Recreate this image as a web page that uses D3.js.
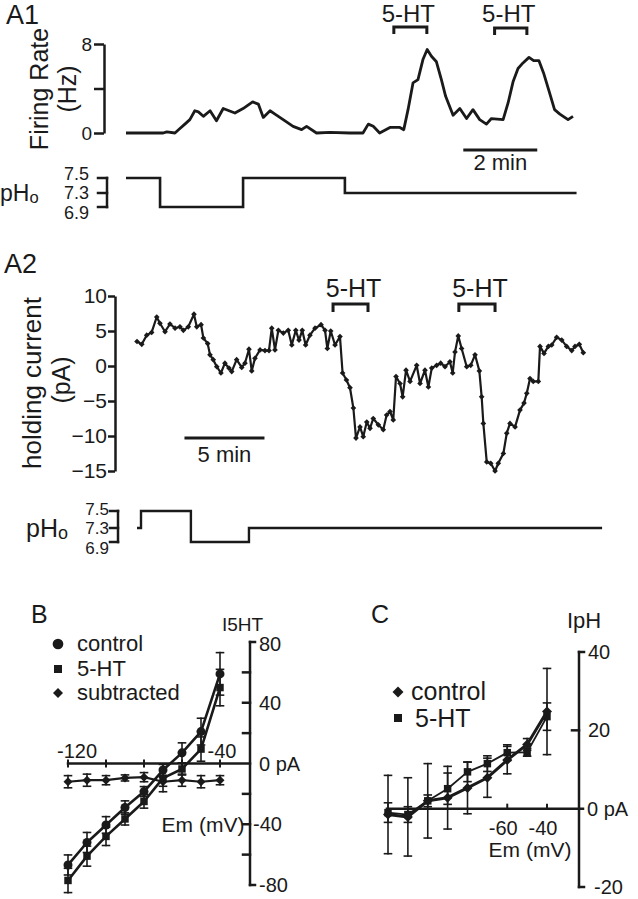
<!DOCTYPE html>
<html><head><meta charset="utf-8">
<script src="https://cdn.jsdelivr.net/npm/d3@7"></script>
<style>
body{margin:0;background:#fff}
svg{display:block}
text{font-family:"Liberation Sans",Arial,Helvetica,sans-serif;fill:#1a1a1a}
</style>
</head><body>
<svg id="c" width="638" height="899"></svg>
<script>
// ---------- DATA ----------
// A1: firing rate (Hz) vs time (min)
const a1Time = [0,1.05,1.15,1.38,1.52,1.66,1.80,1.94,2.04,2.18,2.37,2.55,2.74,3.07,3.30,3.57,3.73,3.87,4.06,4.20,4.43,4.71,4.95,5.09,5.37,5.75,6.31,6.68,6.83,6.97,7.15,7.44,7.72,7.83,7.95,8.09,8.23,8.37,8.49,8.61,8.75,8.89,9.01,9.22,9.41,9.60,9.78,9.97,10.16,10.30,10.63,10.77,10.91,11.05,11.19,11.36,11.49,11.64,11.77,11.94,12.08,12.23,12.46,12.60];
const a1Rate = [0,0,0.1,0,0.4,0.8,1.2,2.0,1.9,1.5,2.0,1.1,2.2,1.8,2.2,2.8,2.6,1.4,2.0,1.7,1.2,0.6,0.3,0.6,0,0.05,0,0,0.8,0.6,0,0.5,0.5,0.3,2.1,4.5,4.8,6.6,7.5,6.9,6.4,4.8,3.3,1.6,2.2,1.3,2.1,1.2,0.8,1.3,1.2,2.7,4.6,5.8,6.3,6.8,6.5,6.5,5.4,3.6,2.1,1.7,1.2,1.5];
const a1Ticks = [0,4,8];
const a1Drug = [[7.55,8.48],[10.39,11.30]];
const a1Bar = [9.55,11.55];          // 2 min scale bar
const a1PhTime = [0,0.96,3.30,6.17,12.7];
const a1PhVal  = [7.5,6.9,7.5,7.3,7.3];
const phTicks = [7.5,7.3,6.9];

// A2: holding current (pA) vs time (min)
const a2Time = [0,0.31,0.63,0.95,1.28,1.49,1.82,2.14,2.47,2.79,3.01,3.33,3.70,3.88,4.16,4.31,4.59,4.74,4.95,5.18,5.45,5.71,5.97,6.15,6.47,6.80,7.01,7.27,7.45,7.66,7.99,8.31,8.57,8.75,8.96,9.18,9.50,9.82,10.05,10.31,10.52,10.73,10.95,11.23,11.56,11.95,12.21,12.36,12.58,12.86,13.18,13.35,13.60,13.83,14.05,14.22,14.48,14.69,14.92,15.13,15.34,15.67,15.99,16.21,16.43,16.64,16.82,17.08,17.25,17.47,17.73,18.16,18.38,18.70,18.92,19.14,19.46,19.72,20.00,20.32,20.50,20.65,20.86,21.08,21.41,21.67,21.95,22.23,22.38,22.49,22.71,22.97,23.25,23.46,23.79,24.01,24.22,24.55,24.87,25.13,25.31,25.52,25.73,26.06,26.17,26.43,26.71,26.93,27.25,27.58,27.90,28.23,28.44,28.72,28.98];
const a2Curr = [3.5,3.1,4.4,4.8,7.0,6.1,4.9,6.0,5.4,5.6,5.1,5.6,7.4,5.6,5.9,4.0,3.2,1.6,0.9,-0.1,-1.0,0.4,-0.3,-0.8,0.9,-0.2,0.4,2.4,-0.7,1.1,2.3,2.2,2.2,5.4,2.3,5.1,4.7,5.1,3.0,5.1,3.7,5.1,3.0,4.4,5.4,5.9,5.1,2.5,5.0,3.0,4.2,-1.0,-2.0,-3.1,-6.0,-10.3,-8.7,-10.1,-8.0,-8.9,-7.5,-8.4,-9.1,-7.0,-6.5,-7.7,-1.5,-2.5,-4.4,-0.6,-2.2,0.1,-2.5,-0.6,-3.0,-0.3,0.1,0.4,-0.1,0.6,-1.0,2.0,4.3,2.5,-0.1,0.1,1.6,-0.7,-4.4,-8.2,-13.7,-13.9,-15.0,-13.9,-12.5,-9.6,-8.2,-8.7,-6.3,-5.3,-3.9,-1.8,-2.2,-2.2,2.8,1.8,2.8,3.0,4.1,3.7,2.8,2.2,2.8,3.1,1.9];
const a2Ticks = [10,5,0,-5,-10,-15];
const a2Drug = [[12.73,15.0],[20.9,23.25]];
const a2Bar = [3.18,8.18];           // 5 min scale bar
const a2PhTime = [0,0.26,3.5,7.27,30.2];
const a2PhVal  = [7.3,7.5,6.9,7.3,7.3];

// B: I-V, I5HT
const bEm = [-120,-110,-100,-90,-80,-70,-60,-50,-40];
const bControl    = [-66.8,-52,-40.5,-29,-18.5,-4.3,7,21,59];
const bControlErr = [6.6,6.6,5.5,4.4,3.3,4,6.6,8.8,14];
const b5HT        = [-77,-61,-48,-36.5,-25,-9.6,-3.6,9.5,50];
const b5HTErr     = [8,6.6,6,4,4.4,9,4,8,12];
const bSub        = [-12,-11,-11,-9.5,-9,-12,-11,-12,-11];
const bSubErr     = [4,4,3,2,3,3,4,4,3];
const bXTicks = [-120,-100,-80,-60,-40];
const bYTicks = [-60,-40,-20,20,40,60];
const bYLabels = [80,40,0,-40,-80];

// C: I-V, IpH
const cEm = [-120,-110,-100,-90,-80,-70,-60,-50,-40];
const cControl    = [-1.5,-2.1,2.0,2.8,5.3,7.9,12.4,16.4,24.8];
const cControlErr = [10,10,9.5,8,6.6,5,3.5,1.5,11];
const c5HT        = [-1.0,-1.5,2.0,5.1,9.4,11.5,14.3,14.4,23.5];
const c5HTErr     = [2.5,2,1.5,4,2.5,2,2,1,3.5];
const cXTicks = [-60,-40];
const cYLabels = [40,20,0,-20];

// ---------- DRAW ----------
const INK = '#1a1a1a';
const svg = d3.select('#c');

function text(x, y, s, size, anchor) {
  return svg.append('text').attr('x', x).attr('y', y).attr('font-size', size)
    .attr('text-anchor', anchor || 'start').text(s);
}
function rtext(x, y, s, size) {
  return svg.append('text').attr('transform', `translate(${x},${y}) rotate(-90)`)
    .attr('font-size', size).attr('text-anchor', 'middle').text(s);
}
function seg(x1, y1, x2, y2, w) {
  svg.append('line').attr('x1', x1).attr('y1', y1).attr('x2', x2).attr('y2', y2)
    .attr('stroke', INK).attr('stroke-width', w || 2.5).attr('stroke-linecap', 'square');
}
function bracket(x0, x1, y, h) {
  svg.append('path').attr('d', `M${x0},${y + h}V${y}H${x1}V${y + h}`)
    .attr('fill', 'none').attr('stroke', INK).attr('stroke-width', 3);
}
function styleAxis(g, size) {
  g.attr('font-family', null).attr('font-size', size);
  g.selectAll('path,line').attr('stroke', INK).attr('stroke-width', 2.5);
  g.selectAll('text').attr('fill', INK);
}
function pho(x, y, size) {
  const t = svg.append('text').attr('x', x).attr('y', y).attr('font-size', size);
  t.append('tspan').text('pH');
  t.append('tspan').attr('font-size', size * 0.72).attr('dy', 2).text('o');
}
const diamondPath = d3.symbol(d3.symbolSquare);

// ===== A1 =====
const xA1 = d3.scaleLinear([0, 12.6], [126, 573]);
const yA1 = d3.scaleLinear([0, 8], [133, 44]);
text(6, 24, 'A1', 27);
rtext(48, 89, 'Firing Rate', 25);
rtext(76, 89, '(Hz)', 25);
const gA1 = svg.append('g').attr('transform', 'translate(104,0)')
  .call(d3.axisLeft(yA1).tickValues(a1Ticks).tickSize(10).tickSizeOuter(0).tickPadding(2)
    .tickFormat(d => d === 4 ? '' : d));
styleAxis(gA1, 19);
svg.append('path').datum(d3.zip(a1Time, a1Rate))
  .attr('d', d3.line().x(d => xA1(d[0])).y(d => yA1(d[1])))
  .attr('fill', 'none').attr('stroke', INK).attr('stroke-width', 2.8).attr('stroke-linejoin', 'round');
a1Drug.forEach((r, i) => {
  const y = i === 0 ? 27 : 28;
  bracket(xA1(r[0]), xA1(r[1]), y, 7);
  text((xA1(r[0]) + xA1(r[1])) / 2 - 2, 22, '5-HT', 24, 'middle');
});
seg(xA1(a1Bar[0]), 150, xA1(a1Bar[1]), 150, 3);
text((xA1(a1Bar[0]) + xA1(a1Bar[1])) / 2, 170, '2 min', 22, 'middle');

// pH A1
const phA1 = d3.scaleLinear([6.9, 7.3, 7.5], [207, 193, 178]);
svg.append('path').datum(d3.zip(a1PhTime, a1PhVal))
  .attr('d', d3.line().x(d => xA1(d[0])).y(d => phA1(d[1])).curve(d3.curveStepAfter))
  .attr('fill', 'none').attr('stroke', INK).attr('stroke-width', 2.6);
seg(107, phA1(7.5), 107, phA1(6.9), 2.5);
phTicks.forEach(v => seg(98, phA1(v), 107, phA1(v), 2.5));
const phA1Off = {7.5: -4, 7.3: 0, 6.9: 6};
phTicks.forEach(v => text(89, phA1(v) + phA1Off[v], v.toFixed(1), 18, 'end').attr('dy', '0.35em'));
pho(0, 201, 23);

// ===== A2 =====
const xA2 = d3.scaleLinear([0, 29], [137, 583.6]);
const yA2 = d3.scaleLinear([-15, 10], [471, 296]);
text(4, 273, 'A2', 27);
rtext(41, 383, 'holding current', 26);
rtext(70, 380, '(pA)', 25);
const gA2 = svg.append('g').attr('transform', 'translate(115,0)')
  .call(d3.axisLeft(yA2).tickValues(a2Ticks).tickSize(7).tickSizeOuter(0).tickPadding(1));
styleAxis(gA2, 21);
svg.append('path').datum(d3.zip(a2Time, a2Curr))
  .attr('d', d3.line().x(d => xA2(d[0])).y(d => yA2(d[1])))
  .attr('fill', 'none').attr('stroke', INK).attr('stroke-width', 2.2).attr('stroke-linejoin', 'round');
svg.append('g').selectAll('path').data(d3.zip(a2Time, a2Curr)).join('path')
  .attr('d', diamondPath.size(16)())
  .attr('transform', d => `translate(${xA2(d[0])},${yA2(d[1])}) rotate(45)`)
  .attr('fill', INK);
a2Drug.forEach(r => {
  bracket(xA2(r[0]), xA2(r[1]), 304, 8);
  text((xA2(r[0]) + xA2(r[1])) / 2 + 3, 297, '5-HT', 25, 'middle');
});
seg(xA2(a2Bar[0]), 438, xA2(a2Bar[1]), 438, 3);
text((xA2(a2Bar[0]) + xA2(a2Bar[1])) / 2, 462, '5 min', 22, 'middle');

// pH A2
const phA2 = d3.scaleLinear([6.9, 7.3, 7.5], [542, 528, 511]);
svg.append('path').datum(d3.zip(a2PhTime, a2PhVal))
  .attr('d', d3.line().x(d => xA2(d[0])).y(d => phA2(d[1])).curve(d3.curveStepAfter))
  .attr('fill', 'none').attr('stroke', INK).attr('stroke-width', 2.4);
seg(118, phA2(7.5), 118, phA2(6.9), 2.5);
phTicks.forEach(v => seg(110, phA2(v), 118, phA2(v), 2.5));
const phA2Off = {7.5: -2, 7.3: 0, 6.9: 6};
phTicks.forEach(v => text(109, phA2(v) + phA2Off[v], v.toFixed(1), 17, 'end').attr('dy', '0.35em'));
pho(26, 537, 25);

// ===== B =====
const xB = d3.scaleLinear([-120, -40], [68, 220]);
const yB = d3.scaleLinear([-80, 80], [885, 642]);
const axB = 250;
text(31, 623, 'B', 25);
text(222, 631, 'I5HT', 19);
seg(xB(-120), yB(0), axB, yB(0), 2.5);
bXTicks.forEach(v => seg(xB(v), yB(0) - 3, xB(v), yB(0) + 3, 2));
seg(axB, yB(-80), axB, yB(80), 2.5);
bYTicks.forEach(v => seg(axB - 7, yB(v), axB, yB(v), 2.5));
[80, -80].forEach(v => seg(axB, yB(v), axB + 5, yB(v), 2.5));
bYLabels.forEach(v => text(v === -40 ? 253 : 259, yB(v) + (v === 80 ? 2 : 0), v === 0 ? '0 pA' : String(v), 20).attr('dy', '0.35em'));
text(xB(-120) + 9, 758, '-120', 20, 'middle');
text(xB(-40) + 2, 758, '-40', 20, 'middle');
text(203, 832, 'Em (mV)', 21, 'middle');

function errBars(xs, ys, es, xS, yS, w) {
  xs.forEach((x, i) => {
    const px = xS(x), y0 = yS(ys[i] - es[i]), y1 = yS(ys[i] + es[i]);
    seg(px, y0, px, y1, w);
    seg(px - 3.5, y0, px + 3.5, y0, w);
    seg(px - 3.5, y1, px + 3.5, y1, w);
  });
}
function series(xs, ys, xS, yS, w) {
  svg.append('path').datum(d3.zip(xs, ys))
    .attr('d', d3.line().x(d => xS(d[0])).y(d => yS(d[1])))
    .attr('fill', 'none').attr('stroke', INK).attr('stroke-width', w).attr('stroke-linejoin', 'round');
}
function marks(xs, ys, xS, yS, kind, size) {
  svg.append('g').selectAll('path').data(d3.zip(xs, ys)).join('path')
    .attr('d', d3.symbol(kind === 'circle' ? d3.symbolCircle : d3.symbolSquare).size(size)())
    .attr('transform', d => `translate(${xS(d[0])},${yS(d[1])})${kind === 'diamond' ? ' rotate(45)' : ''}`)
    .attr('fill', INK);
}
errBars(bEm, bControl, bControlErr, xB, yB, 1.6);
errBars(bEm, b5HT, b5HTErr, xB, yB, 1.6);
errBars(bEm, bSub, bSubErr, xB, yB, 1.6);
series(bEm, bControl, xB, yB, 2.6);
series(bEm, b5HT, xB, yB, 2.6);
series(bEm, bSub, xB, yB, 2.2);
marks(bEm, bControl, xB, yB, 'circle', 64);
marks(bEm, b5HT, xB, yB, 'square', 56);
marks(bEm, bSub, xB, yB, 'diamond', 40);
// legend B
const legB = [['circle', 'control', 644], ['square', '5-HT', 669], ['diamond', 'subtracted', 693]];
legB.forEach(([k, s, y]) => {
  svg.append('path').attr('d', d3.symbol(k === 'circle' ? d3.symbolCircle : d3.symbolSquare).size(k === 'circle' ? 90 : (k === 'square' ? 64 : 50))())
    .attr('transform', `translate(58,${y})${k === 'diamond' ? ' rotate(45)' : ''}`).attr('fill', INK);
  text(77, y + 7, s, 22);
});

// ===== C =====
const xC = d3.scaleLinear([-120, -40], [388, 547]);
const yC = d3.scaleLinear([-20, 40], [887, 652]);
const axC = 579;
text(371, 623, 'C', 25);
text(567, 628, 'IpH', 22);
seg(387, yC(0), 583, yC(0), 2.5);
cXTicks.forEach(v => seg(xC(v), yC(0) - 4, xC(v), yC(0), 2));
seg(axC, yC(-20), axC, yC(40), 2.5);
seg(axC - 7, yC(20), axC, yC(20), 2.5);
[40, -20].forEach(v => seg(axC, yC(v), axC + 5, yC(v), 2.5));
cYLabels.forEach(v => text(v === 0 ? 587 : (v === -20 ? 594 : 588), yC(v), v === 0 ? '0 pA' : String(v), 20).attr('dy', '0.35em'));
cXTicks.forEach(v => text(xC(v) - 4, 835, String(v), 20, 'middle'));
text(530, 857, 'Em (mV)', 21, 'middle');
errBars(cEm, cControl, cControlErr, xC, yC, 1.6);
errBars(cEm, c5HT, c5HTErr, xC, yC, 1.6);
series(cEm, c5HT, xC, yC, 1.8);
series(cEm, cControl, xC, yC, 3);
marks(cEm, c5HT, xC, yC, 'square', 56);
marks(cEm, cControl, xC, yC, 'diamond', 50);
// legend C
svg.append('path').attr('d', d3.symbol(d3.symbolSquare).size(60)())
  .attr('transform', 'translate(398,692) rotate(45)').attr('fill', INK);
text(411, 700, 'control', 25);
svg.append('path').attr('d', d3.symbol(d3.symbolSquare).size(64)())
  .attr('transform', 'translate(398,718)').attr('fill', INK);
text(415, 727, '5-HT', 25);
</script>
</body></html>
